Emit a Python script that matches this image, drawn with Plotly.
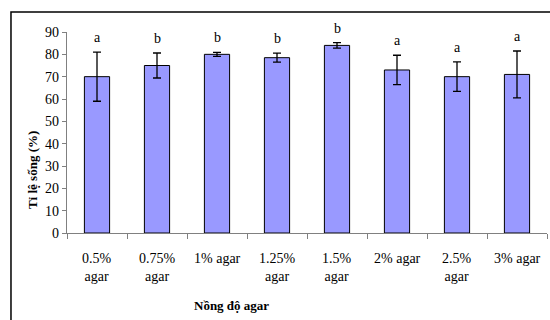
import plotly.graph_objects as go

categories = ["0.5%<br>agar", "0.75%<br>agar", "1% agar", "1.25%<br>agar",
              "1.5%<br>agar", "2% agar", "2.5%<br>agar", "3% agar"]
survival = [70, 75, 80, 78.5, 84, 73, 70, 71]
errors = [11, 5.6, 0.9, 2.0, 1.2, 6.6, 6.6, 10.5]
letters = ["a", "b", "b", "b", "b", "a", "a", "a"]
y_ticks = [0, 10, 20, 30, 40, 50, 60, 70, 80, 90]

FONT = "Liberation Serif"

fig = go.Figure()
fig.add_trace(go.Bar(
    x=categories, y=survival,
    marker=dict(color="#9999FF", line=dict(color="#000000", width=1)),
    error_y=dict(type="data", array=errors, visible=True,
                 color="#000000", thickness=1.3, width=4),
))

for c, v, e, l in zip(categories, survival, errors, letters):
    fig.add_annotation(x=c, y=v + e, text=l, showarrow=False,
                       yanchor="bottom", yshift=5,
                       font=dict(family=FONT, size=14, color="#000"))

# category labels, set a little further below the axis than default tick labels
for c in categories:
    fig.add_annotation(x=c, xref="x", yref="paper", y=-0.08, text=c,
                       showarrow=False, xanchor="center", yanchor="top",
                       font=dict(family=FONT, size=14, color="#000"))

fig.add_annotation(xref="paper", yref="paper", x=-0.073, y=0.313,
                   xanchor="center", yanchor="middle",
                   text="<b>Tỉ lệ sống (%)</b>", textangle=-90, showarrow=False,
                   font=dict(family=FONT, size=13, color="#000"))
fig.add_annotation(xref="paper", yref="paper", x=0.342, y=-0.363,
                   xanchor="center", yanchor="middle",
                   text="<b>Nồng độ agar</b>", showarrow=False,
                   font=dict(family=FONT, size=13, color="#000"))

# outer chart-area frame (top and left edges; right/bottom run off the page)
fig.add_shape(type="path", xref="paper", yref="paper",
              path="M -0.1167,-0.5 L -0.1167,1.1 L 1.02,1.1",
              line=dict(color="#000", width=1.5), layer="above")

fig.update_layout(
    width=550, height=320,
    margin=dict(l=67, r=3, t=32, b=87),
    paper_bgcolor="white", plot_bgcolor="white",
    bargap=0.58, showlegend=False,
    font=dict(family=FONT, size=14, color="#000"),
)
fig.update_xaxes(showline=True, linecolor="#808080", linewidth=1.2,
                 ticks="outside", tickson="boundaries", ticklen=5,
                 tickcolor="#808080", showgrid=False, showticklabels=False)
fig.update_yaxes(range=[0, 90], tickvals=y_ticks, showline=True,
                 linecolor="#808080", linewidth=1.2, ticks="outside",
                 ticklen=4, tickcolor="#808080", showgrid=False, zeroline=False,
                 tickfont=dict(family=FONT, size=14, color="#000"))

fig.write_html("out.html", config={"displayModeBar": False},
               post_script="document.body.style.margin='0';document.body.style.overflow='hidden';")
